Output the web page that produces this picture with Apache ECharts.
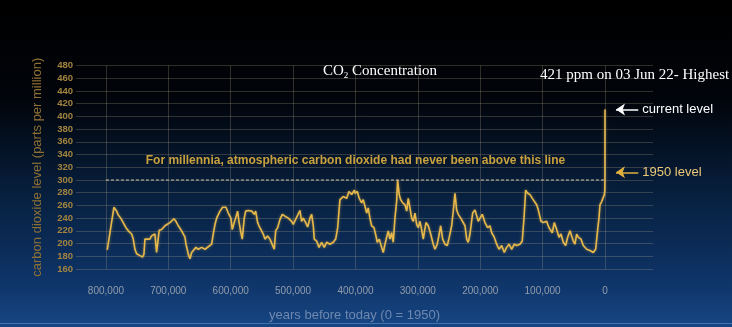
<!DOCTYPE html>
<html>
<head>
<meta charset="utf-8">
<script src="https://cdn.jsdelivr.net/npm/echarts@6/dist/echarts.min.js"></script>
<style>
html,body{margin:0;padding:0;background:#000;}
#chart{width:732px;height:327px;}
</style>
</head>
<body>
<div id="chart"></div>
<script>
// ---- data (years before 1950, CO2 ppm) ----
const yearsBP = [
797900,787200,782800,780300,776400,772300,767900,764200,761500,758800,756200,753500,750800,745500,741200,739100,737500,734800,729500,726800,724200,721500,718800,714600,710700,705400,702700,697400,694700,691000,687800,684100,681400,678700,676100,673300,671700,669700,668000,665300,662600,660000,655700,652000,646600,641300,636000,630500,628000,625200,622500,617200,612900,607600,603900,
599600,597500,594300,592100,588900,586800,583600,581500,578300,576000,571900,566400,562200,560000,556800,554700,551500,547800,545100,540800,537100,534400,530200,527900,524700,521000,517300,513000,507700,502300,499700,495900,492700,489000,486300,483700,479800,476600,472900,470200,467600,466000,462200,458500,454200,450000,446200,440900,435600,431700,428500,426400,424800,419500,414100,410400,406100,401900,
400800,397100,393900,390100,387500,384800,382000,379500,376800,374100,370300,367100,365100,361800,358000,355400,352700,350000,347400,344700,342000,339400,336700,334000,332400,329800,327500,324300,320600,317900,315400,312600,309900,307300,304600,301900,299300,296600,293900,291300,287000,283300,279400,275300,272500,268900,265700,263400,260200,256500,252800,249600,245800,243200,240500,237800,235200,231300,228100,224400,221700,219200,216400,212100,208400,203100,
200400,196700,192400,188100,184400,181600,177500,173600,169900,165600,161400,157600,153900,149600,145400,141600,136300,132600,129400,127100,123900,120200,116500,113300,109500,106900,102600,98900,96200,93500,89800,86600,84500,81300,77400,73700,70500,66900,63000,59800,56100,53400,50800,48100,45400,42800,38500,34800,29300,24000,18800,14900,11700,9600,8000,5300,2700,1000,300,100,0,-72
];
const co2ppm = [
190,257,251,245,240,233,225,220,222,215,207,191,184,181,179,183,207,210,207,212,210,215,186,221,222,228,230,233,236,239,235,228,230,220,222,210,199,191,183,176,186,183,194,191,194,191,195,199,215,230,240,251,257,257,248,
240,222,233,240,251,235,217,207,240,251,252,251,246,251,233,228,222,215,207,212,207,204,191,220,225,238,246,243,240,235,230,238,240,252,235,240,233,226,240,246,228,207,204,194,202,194,202,199,202,207,225,251,269,274,271,282,277,284,
279,282,271,264,269,259,248,256,240,228,225,212,202,207,194,186,199,210,220,207,217,202,240,266,300,277,269,264,261,251,271,256,240,235,248,230,225,235,222,207,233,228,215,199,191,199,215,228,207,199,197,210,228,251,279,253,246,240,243,228,207,202,215,248,253,235,
240,246,233,225,228,217,210,199,191,197,186,194,199,191,199,197,199,204,246,284,279,277,271,274,261,253,235,233,230,235,225,228,217,233,222,210,215,202,197,210,220,222,204,199,215,210,207,197,191,189,186,191,222,240,261,266,264,277,283,297,312,411
];
const xTicks = [800000,700000,600000,500000,400000,300000,200000,100000,0];
const yMin = 160, yMax = 480, yStep = 20;
const thresholdPpm = 300;
const currentPpm = 411;
const level1950Ppm = 312;
const noteText = '421 ppm on 03 Jun 22- Highest';
const thresholdText = 'For millennia, atmospheric carbon dioxide had never been above this line';

const seriesData = yearsBP.map((y, i) => [y, co2ppm[i]]);

const gridColor = 'rgba(200,185,150,0.24)';
const chart = echarts.init(document.getElementById('chart'), null, {renderer: 'canvas'});

const markData = [];
xTicks.forEach(v => markData.push({xAxis: v, symbol: 'none', label: {show: false}, lineStyle: {color: gridColor, width: 1, type: 'solid'}}));
markData.push([
  {coord: [800000, thresholdPpm], symbol: 'none',
   lineStyle: {color: 'rgba(190,180,160,0.75)', width: 1.5, type: [3, 2]},
   label: {show: true, position: 'insideMiddleTop', distance: 13, formatter: thresholdText,
     color: '#c9a13e', fontSize: 12, fontWeight: 'bold', fontFamily: 'Liberation Sans'}},
  {coord: [0, thresholdPpm], symbol: 'none'}
]);
markData.push([
  {coord: [-17600, currentPpm], symbol: 'arrow', symbolSize: 9,
   lineStyle: {color: '#ffffff', width: 1.5, type: 'solid'},
   label: {show: true, position: 'end', distance: 4, formatter: 'current level',
     color: '#ffffff', fontSize: 13, fontFamily: 'Liberation Sans'}},
  {coord: [-53400, currentPpm], symbol: 'none'}
]);
markData.push([
  {coord: [-17600, level1950Ppm], symbol: 'arrow', symbolSize: 9, itemStyle: {color: '#e0b040'},
   lineStyle: {color: '#e0b040', width: 1.5, type: 'solid'},
   label: {show: true, position: 'end', distance: 4, formatter: '1950 level',
     color: '#ecc878', fontSize: 13, fontFamily: 'Liberation Sans'}},
  {coord: [-53400, level1950Ppm], symbol: 'none'}
]);

const option = {
  animation: false,
  backgroundColor: {
    type: 'linear', x: 0, y: 0, x2: 0, y2: 1,
    colorStops: [
      {offset: 0, color: '#000000'},
      {offset: 0.3, color: '#01040a'},
      {offset: 0.6, color: '#07203f'},
      {offset: 0.85, color: '#0e3366'},
      {offset: 1, color: '#164683'}
    ]
  },
  title: [
    {text: '{a|CO}{s|2}{a| Concentration}', left: 318, top: 57,
     textStyle: {fontWeight: 'normal', rich: {
       a: {fontFamily: 'Liberation Serif', fontSize: 15, fontWeight: 'normal', color: '#ffffff'},
       s: {fontFamily: 'Liberation Serif', fontSize: 9, fontWeight: 'normal', color: '#ffffff', padding: [9, 0, 0, 0]}
     }}},
    {text: noteText, left: 535, top: 63,
     textStyle: {fontFamily: 'Liberation Serif', fontSize: 15, fontWeight: 'normal', color: '#ffffff'}}
  ],
  grid: {left: 76, right: 79, top: 65.5, bottom: 55},
  xAxis: {
    type: 'value', min: -77000, max: 848000, inverse: true,
    axisLine: {show: false}, axisTick: {show: false}, splitLine: {show: false},
    axisLabel: {customValues: xTicks, margin: 17, color: '#939cab', fontSize: 10,
      fontFamily: 'Liberation Sans',
      formatter: v => Number(v).toLocaleString('en-US')},
    name: 'years before today (0 = 1950)', nameLocation: 'middle', nameGap: 40,
    nameTextStyle: {color: '#6f88b0', fontSize: 13, fontFamily: 'Liberation Sans', padding: [0, 20, 0, 0]}
  },
  yAxis: {
    type: 'value', min: yMin, max: yMax, interval: yStep,
    axisLine: {show: false}, axisTick: {show: false},
    splitLine: {show: true, lineStyle: {color: gridColor, width: 1}},
    axisLabel: {color: '#a3843f', fontSize: 9.5, fontWeight: 'bold', margin: 3, fontFamily: 'Liberation Sans'},
    name: 'carbon dioxide level (parts per million)', nameLocation: 'middle', nameGap: 32,
    nameTextStyle: {color: '#8f7033', fontSize: 13, fontFamily: 'Liberation Sans'}
  },
  graphic: [
    {type: 'rect', shape: {x: 0, y: 323, width: 732, height: 1}, style: {fill: 'rgba(120,170,230,0.45)'}, silent: true}
  ],
  series: [{
    type: 'line', data: seriesData, showSymbol: false, clip: false,
    lineStyle: {color: '#e8b94a', width: 1.6, shadowBlur: 3, shadowColor: 'rgba(232,185,74,0.5)'},
    itemStyle: {color: '#e8b94a'},
    markLine: {silent: true, symbol: ['none', 'none'], animation: false, precision: 0, data: markData}
  }]
};
chart.setOption(option);
</script>
</body>
</html>
